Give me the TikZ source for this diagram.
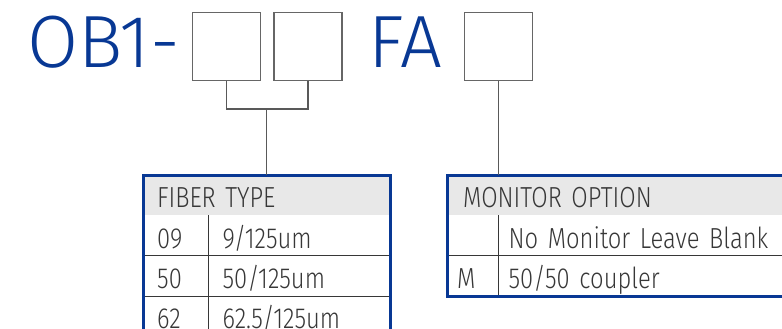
\documentclass[tikz,border=0pt]{standalone}
\usepackage{fontspec}
\setmainfont{Fira Sans}[UprightFont={* Light}, FakeStretch=0.82]
\newfontfamily\titlefont{Fira Sans}[UprightFont={* Light}]
\usetikzlibrary{positioning}
\definecolor{obblue}{RGB}{8,56,148}
\definecolor{txtgray}{RGB}{55,55,55}
\definecolor{hdgray}{RGB}{232,232,232}
\newcommand{\cellfont}{\fontsize{29}{29}\selectfont\spaceskip 6.5pt\relax}
\tikzstyle{slot} = [rectangle, draw=black!60, line width=1.3pt, minimum width=68pt, minimum height=68pt, inner sep=0pt]
\tikzstyle{link} = [draw=black!65, line width=1.3pt]
\tikzstyle{rule} = [draw=txtgray, line width=1pt]
\tikzstyle{frame} = [draw=obblue, line width=3pt]
\tikzstyle{title} = [text=obblue, font=\titlefont\fontsize{74}{74}\selectfont, inner sep=0pt, anchor=base west]
\tikzstyle{cell} = [rectangle, anchor=north west, minimum height=40pt, inner ysep=0pt, text height=25pt, text depth=0pt, align=left, text=txtgray, font=\cellfont]
\begin{document}
\begin{tikzpicture}[x=1pt, y=-1pt]
\clip (0,0) rectangle (782,329);
% part number
\node (ob) [title] at (27,67) {OB1-};
\node (s1) [slot] at (226.5,46.5) {};
\node (s2) [slot] at (308,46.5) {};
\node (fa) [title] at (368,67) {FA};
\node (s3) [slot] at (498.5,46.5) {};
% fiber type table
\node (fh) [cell, fill=hdgray, minimum width=247pt, text width=219pt, inner xsep=14pt] at (143,175) {FIBER TYPE};
\node (c09) [cell, minimum width=65pt, text width=37pt, inner xsep=14pt, below=0pt of fh.south west, anchor=north west] {09};
\node (d09) [cell, minimum width=182pt, text width=154pt, inner xsep=14pt, right=0pt of c09.north east, anchor=north west] {9/125um};
\node (c50) [cell, minimum width=65pt, text width=37pt, inner xsep=14pt, below=0pt of c09.south west, anchor=north west] {50};
\node (d50) [cell, minimum width=182pt, text width=154pt, inner xsep=14pt, right=0pt of c50.north east, anchor=north west] {50/125um};
\node (c62) [cell, minimum width=65pt, text width=37pt, inner xsep=14pt, below=0pt of c50.south west, anchor=north west] {62};
\node (d62) [cell, minimum width=182pt, text width=154pt, inner xsep=14pt, right=0pt of c62.north east, anchor=north west] {62.5/125um};
\draw [rule] (c09.north east) -- (c62.south east);
\draw [rule] (c09.south west) -- (d09.south east);
\draw [rule] (c50.south west) -- (d50.south east);
\draw [frame] (fh.north west) rectangle (d62.south east);
% monitor option table
\node (mh) [cell, fill=hdgray, minimum width=353pt, text width=321pt, inner xsep=16pt] at (447,175) {MONITOR OPTION};
\node (cnone) [cell, minimum width=51pt, text width=31pt, inner xsep=10pt, below=0pt of mh.south west, anchor=north west] {};
\node (dnone) [cell, minimum width=302pt, text width=282pt, inner xsep=10pt, right=0pt of cnone.north east, anchor=north west] {No Monitor Leave Blank};
\node (cm) [cell, minimum width=51pt, text width=31pt, inner xsep=10pt, below=0pt of cnone.south west, anchor=north west] {M};
\node (dm) [cell, minimum width=302pt, text width=282pt, inner xsep=10pt, right=0pt of cm.north east, anchor=north west] {50/50 coupler};
\draw [rule] (cnone.north east) -- (cm.south east);
\draw [rule] (cnone.south west) -- (dnone.south east);
\draw [frame] (mh.north west) rectangle (dm.south east);
% connectors
\coordinate (fjoin) at (fh.north |- 0,109);
\draw [link] (s1.south) |- (fjoin) -| (s2.south);
\draw [link] (fjoin) -- (fh.north);
\draw [link] (s3.south) -- (s3.south |- mh.north);
\end{tikzpicture}
\end{document}
